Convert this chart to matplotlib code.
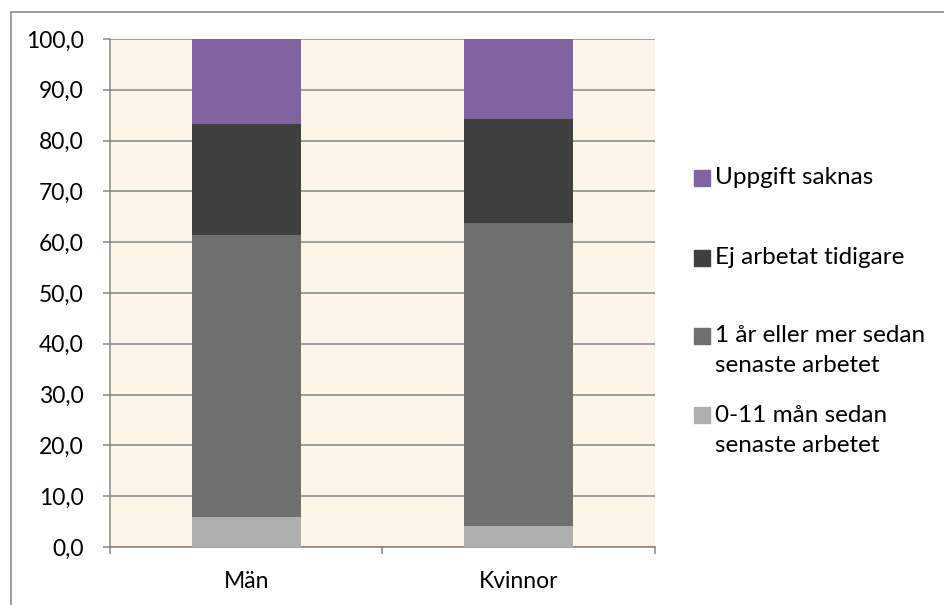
import matplotlib
matplotlib.use('Agg')
import matplotlib.pyplot as plt
from matplotlib.patches import Rectangle
import numpy as np

plt.rcParams['font.family'] = ['Lato', 'DejaVu Sans']

categories = ['Män', 'Kvinnor']
series_names = ['0-11 mån sedan\nsenaste arbetet',
                '1 år eller mer sedan\nsenaste arbetet',
                'Ej arbetat tidigare',
                'Uppgift saknas']
recent = [6.0, 4.1]
long_ago = [55.4, 59.6]
never = [21.8, 20.6]
missing = [16.8, 15.7]
colors = ['#afafaf', '#707070', '#404040', '#8064a2']

W, H = 945, 605
fig = plt.figure(figsize=(W / 100, H / 100), dpi=100)
ax = fig.add_axes([110 / W, 1 - 547 / H, (655 - 110) / W, (547 - 39) / H])
ax.set_facecolor('#fdf5e8')

grey = '#868686'
x = np.arange(len(categories))
bottom = np.zeros(len(categories))
for vals, col in zip([recent, long_ago, never, missing], colors):
    ax.bar(x, vals, width=0.4, bottom=bottom, color=col, zorder=3, linewidth=0)
    bottom += np.array(vals)

ax.set_xlim(-0.5, 1.5)
ax.set_ylim(0, 100)
yt = np.arange(0, 101, 10)
ax.set_yticks(yt)
ax.set_yticklabels([('%.1f' % v).replace('.', ',') for v in yt], fontsize=16.5)
ax.yaxis.grid(True, color=grey, linewidth=1.1, zorder=1)
ax.set_axisbelow(True)
ax.tick_params(axis='y', length=5, width=1.1, color=grey, pad=14)

# category boundaries as major ticks, names on minor ticks
ax.set_xticks([-0.5, 0.5, 1.5])
ax.set_xticklabels([])
ax.set_xticks(x, minor=True)
ax.set_xticklabels(categories, minor=True, fontsize=16.5)
ax.tick_params(axis='x', which='major', length=5, width=1.1, color=grey)
ax.tick_params(axis='x', which='minor', length=0, pad=17)

for s in ['top', 'right']:
    ax.spines[s].set_visible(False)
for s in ['left', 'bottom']:
    ax.spines[s].set_color(grey)
    ax.spines[s].set_linewidth(1.1)

# legend drawn by hand so the squares line up with the first text line
leg_y = [415, 336, 258, 178]
for name, col, yc in zip(series_names, colors, leg_y):
    fig.patches.append(Rectangle((694 / W, 1 - (yc + 8) / H), 16 / W, 16 / H,
                                 transform=fig.transFigure, color=col))
    for i, line in enumerate(name.split('\n')):
        fig.text(715 / W, 1 - (yc + i * 30) / H, line, fontsize=17.5,
                 va='center', ha='left')

# chart frame (runs off the right and bottom edges)
fig.patches.append(Rectangle((10.5 / W, -0.1), 1.2, 1 - 11.5 / H + 0.1,
                             transform=fig.transFigure, fill=False,
                             edgecolor='#8c8c8c', linewidth=1.2))

fig.savefig('out.png', dpi=100)
